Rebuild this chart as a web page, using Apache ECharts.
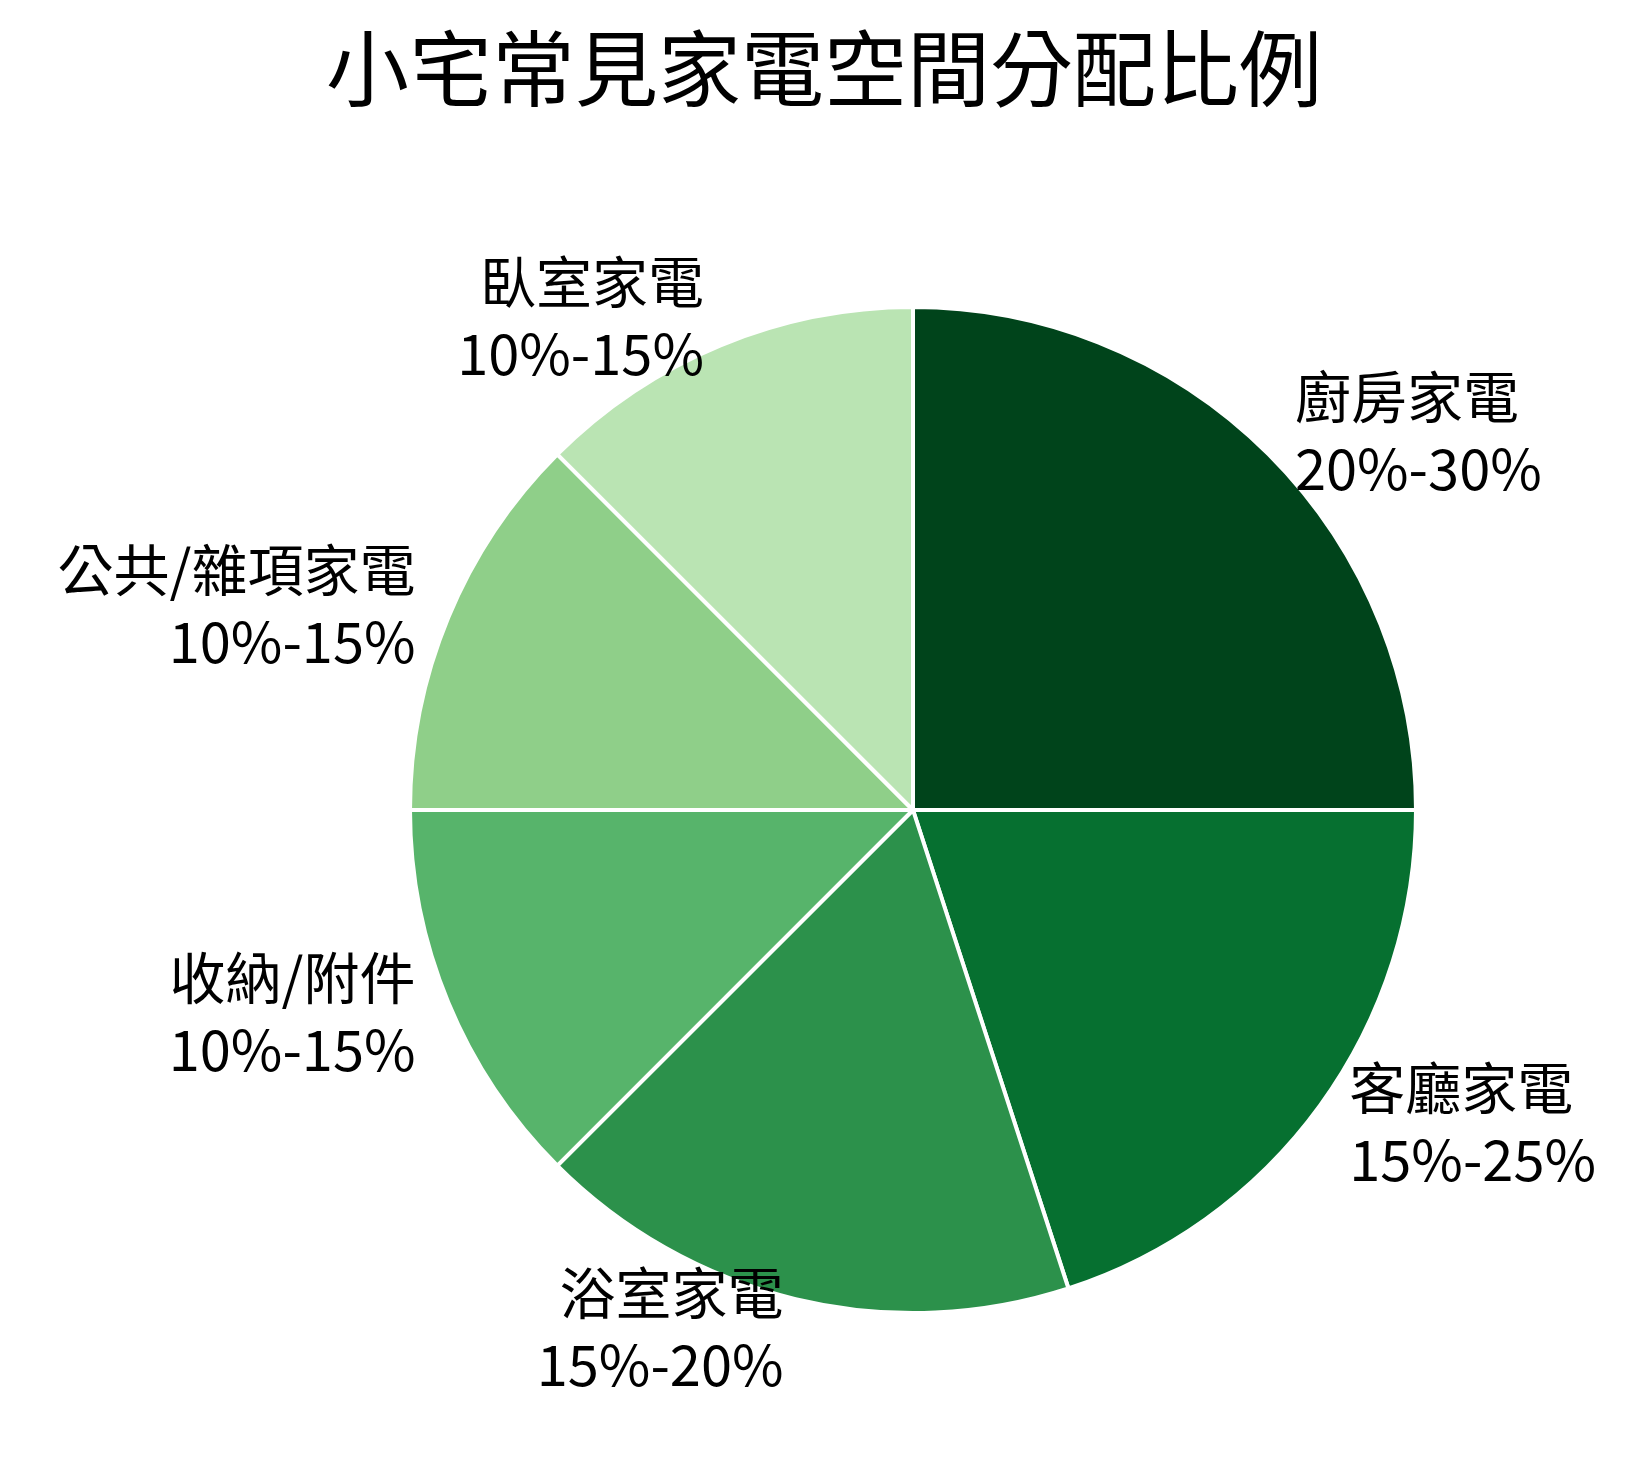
<!DOCTYPE html>
<html><head><meta charset="utf-8">
<script src="https://cdn.jsdelivr.net/npm/echarts@6/dist/echarts.min.js"></script>
<style>html,body{margin:0;background:#fff}#c{width:1648px;height:1468px}</style>
</head><body><div id="c"></div>
<script>
var categories = ['廚房家電', '客廳家電', '浴室家電', '收納/附件', '公共/雜項家電', '臥室家電'];
var ranges = ['20%-30%', '15%-25%', '15%-20%', '10%-15%', '10%-15%', '10%-15%'];
var values = [25, 20, 17.5, 12.5, 12.5, 12.5];
var colors = ['#00441b', '#067030', '#2c914b', '#57b46b', '#8fcf89', '#bae4b3'];

var chart = echarts.init(document.getElementById('c'));
chart.setOption({
  title: {
    text: '小宅常見家電空間分配比例',
    left: 'center', top: 22,
    textStyle: { fontFamily: 'Noto Sans CJK TC', fontSize: 83, fontWeight: 'normal', color: '#000' }
  },
  series: [{
    type: 'pie',
    center: [913, 810],
    radius: 503,
    startAngle: 90,
    clockwise: true,
    color: colors,
    itemStyle: { borderColor: '#fff', borderWidth: 4 },
    label: {
      position: 'outside',
      formatter: function (p) { return p.name + '\n' + ranges[p.dataIndex]; },
      fontFamily: 'Noto Sans CJK TC', fontSize: 56, lineHeight: 72, color: '#000'
    },
    labelLine: { show: false, length: 30, length2: 0 },
    data: categories.map(function (c, i) { return { name: c, value: values[i] }; })
  }]
});
</script></body></html>
